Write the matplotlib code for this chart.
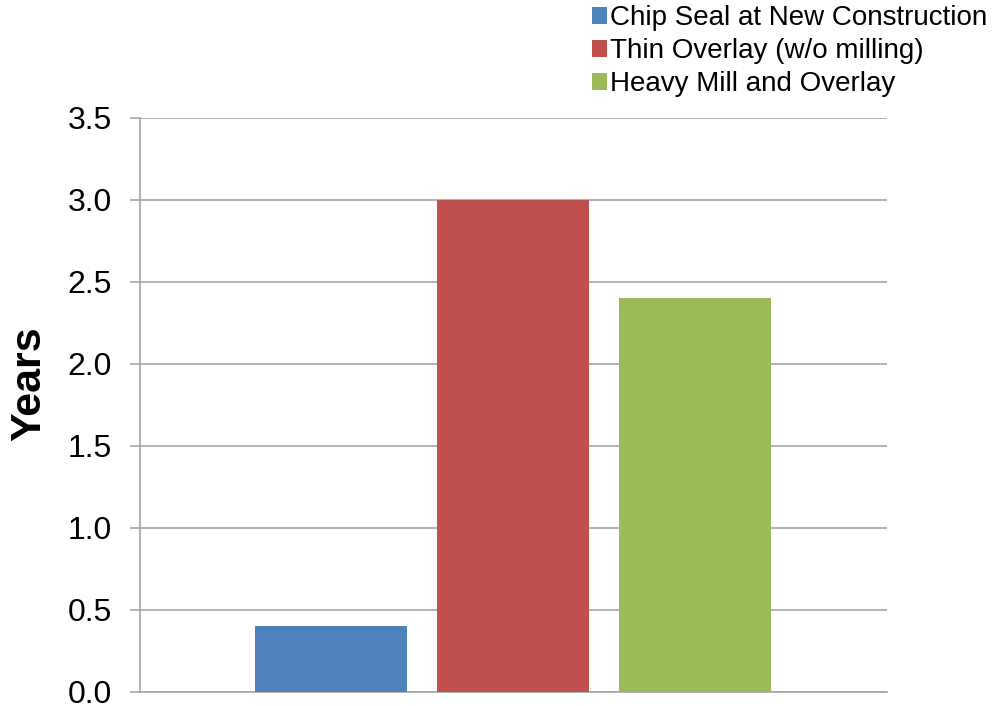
import matplotlib.pyplot as plt

plt.rcParams['font.family'] = ['Liberation Sans', 'DejaVu Sans']

treatments = ["Chip Seal at New Construction", "Thin Overlay (w/o milling)", "Heavy Mill and Overlay"]
years = [0.4, 3.0, 2.4]
colors = ["#4F81BD", "#C0504D", "#9BBB59"]
positions = [-1, 0, 1]

fig = plt.figure(figsize=(9.93, 7.06), dpi=100)
ax = fig.add_axes([0.141, 0.02, 0.752, 0.813])

for pos, val, col, name in zip(positions, years, colors, treatments):
    ax.bar(pos, val, width=0.835, color=col, label=name, zorder=3)

ax.set_xlim(-2.052, 2.052)
ax.set_ylim(0, 3.5)
ax.set_yticks([0, 0.5, 1.0, 1.5, 2.0, 2.5, 3.0, 3.5])
ax.set_yticklabels([f"{v:.1f}" for v in ax.get_yticks()], fontsize=23)
ax.set_xticks([])
ax.yaxis.grid(True, color="#a6a6a6", linewidth=1.2, zorder=0)
ax.tick_params(axis="y", direction="out", length=7, color="#a6a6a6", width=1.2, pad=13)

for side in ["top", "right"]:
    ax.spines[side].set_visible(False)
ax.spines["left"].set_color("#a6a6a6")
ax.spines["bottom"].set_color("#a6a6a6")
ax.spines["left"].set_linewidth(1.2)
ax.spines["bottom"].set_linewidth(1.2)

ax.set_ylabel("Years", fontsize=31, fontweight="bold")
ax.yaxis.set_label_coords(-0.122, 0.537)

ax.legend(loc="upper right", bbox_to_anchor=(1.008, 1.012), bbox_transform=fig.transFigure,
          frameon=False, fontsize=20, handlelength=0.55, handleheight=0.55,
          handletextpad=0.1, labelspacing=0.25, borderaxespad=0.1)

fig.savefig("out.png", dpi=100)
